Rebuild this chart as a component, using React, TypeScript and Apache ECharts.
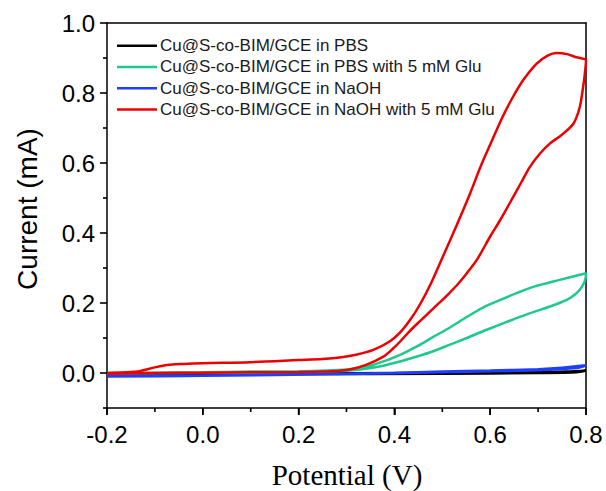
import React, { useEffect, useRef } from "react";
import * as echarts from "echarts";

// Potential (V), Current (mA) — forward and reverse scans of each CV loop
const pbsFwd: number[][] = [[-0.2,-0.003],[0.0,-0.002],[0.2,-0.001],[0.4,0.0],[0.6,0.001],[0.7,0.002],[0.76,0.004],[0.8,0.007]];
const pbsRev: number[][] = [[0.78,0.002],[0.7,0.0],[0.5,-0.002],[0.2,-0.003],[-0.2,-0.004]];

const pbsGluFwd: number[][] = [[-0.2,0.0],[-0.1,0.001],[0.0,0.002],[0.1,0.004],[0.2,0.005],[0.26,0.007],[0.3,0.01],[0.328,0.015],[0.355,0.023],[0.377,0.033],[0.412,0.052],[0.447,0.076],[0.481,0.103],[0.516,0.13],[0.551,0.16],[0.585,0.187],[0.62,0.208],[0.655,0.228],[0.69,0.246],[0.745,0.266],[0.8,0.285]];
const pbsGluRev: number[][] = [[0.799,0.27],[0.795,0.255],[0.787,0.238],[0.775,0.222],[0.76,0.209],[0.725,0.19],[0.69,0.174],[0.655,0.157],[0.62,0.138],[0.586,0.12],[0.551,0.1],[0.516,0.081],[0.481,0.062],[0.447,0.047],[0.412,0.033],[0.377,0.021],[0.328,0.01],[0.28,0.005],[0.2,0.002],[0.0,0.0],[-0.2,-0.002]];

const naohFwd: number[][] = [[-0.2,-0.009],[0.0,-0.007],[0.2,-0.004],[0.4,0.0],[0.5,0.004],[0.6,0.007],[0.7,0.011],[0.75,0.015],[0.8,0.022]];
const naohRev: number[][] = [[0.78,0.014],[0.7,0.008],[0.5,0.002],[0.3,-0.003],[0.0,-0.008],[-0.2,-0.01]];

const naohGluFwd: number[][] = [[-0.2,0.0],[-0.16,0.002],[-0.13,0.006],[-0.1,0.016],[-0.075,0.023],[-0.04,0.026],[0.0,0.028],[0.1,0.031],[0.2,0.037],[0.25,0.04],[0.29,0.045],[0.32,0.052],[0.356,0.066],[0.39,0.09],[0.412,0.116],[0.433,0.152],[0.453,0.195],[0.476,0.255],[0.502,0.335],[0.53,0.422],[0.558,0.513],[0.58,0.59],[0.604,0.665],[0.627,0.735],[0.648,0.79],[0.669,0.837],[0.697,0.884],[0.72,0.907],[0.739,0.914],[0.76,0.911],[0.78,0.902],[0.8,0.893]];
const naohGluRev: number[][] = [[0.798,0.86],[0.794,0.817],[0.787,0.76],[0.774,0.713],[0.749,0.68],[0.725,0.656],[0.704,0.627],[0.683,0.589],[0.665,0.545],[0.648,0.503],[0.62,0.435],[0.6,0.39],[0.572,0.323],[0.55,0.283],[0.53,0.25],[0.51,0.222],[0.488,0.193],[0.465,0.163],[0.447,0.14],[0.43,0.117],[0.412,0.09],[0.395,0.067],[0.377,0.047],[0.342,0.024],[0.307,0.01],[0.27,0.005],[0.2,0.003],[0.1,0.002],[0.0,0.001],[-0.1,0.0],[-0.2,-0.002]];

const seriesNames = [
  "Cu@S-co-BIM/GCE in PBS",
  "Cu@S-co-BIM/GCE in PBS with 5 mM Glu",
  "Cu@S-co-BIM/GCE in NaOH",
  "Cu@S-co-BIM/GCE in NaOH with 5 mM Glu",
];
const seriesColors = ["#000000", "#1ec98b", "#1f3fff", "#ee0000"];
const seriesData = [
  [...pbsFwd, ...pbsRev],
  [...pbsGluFwd, ...pbsGluRev],
  [...naohFwd, ...naohRev],
  [...naohGluFwd, ...naohGluRev],
];

// axis ranges and tick positions
const xMin = -0.2;
const xMax = 0.8;
const yMin = -0.1;
const yMax = 1.0;
const xMajorTicks = [-0.2, 0.0, 0.2, 0.4, 0.6, 0.8];
const xMinorTicks = [-0.1, 0.1, 0.3, 0.5, 0.7];
const yMajorTicks = [0.0, 0.2, 0.4, 0.6, 0.8, 1.0];
const yMinorTicks = [-0.1, 0.1, 0.3, 0.5, 0.7, 0.9];

const xTitle = "Potential (V)";
const yTitle = "Current (mA)";

const SANS = '"Liberation Sans", Arial, sans-serif';
const SERIF = '"Liberation Serif", "Times New Roman", serif';

export default function App() {
  const ref = useRef<HTMLDivElement>(null);
  useEffect(() => {
    if (!ref.current) return;
    const chart = echarts.init(ref.current, null, { renderer: "svg" });
    const fmt = (v: number) => (Math.abs(v - yMin) < 1e-9 ? "" : v.toFixed(1));
    const ls = () => ({ color: "#000", width: 1.5 });
    const frameAxis = {
      axisTick: { show: false },
      axisLabel: { show: false },
      splitLine: { show: false },
    };
    chart.setOption({
      animation: false,
      backgroundColor: "#ffffff",
      grid: { left: 107, right: 20, top: 23, bottom: 83 },
      legend: {
        orient: "vertical",
        left: 117,
        top: 37,
        padding: 0,
        icon: "rect",
        itemWidth: 40,
        itemHeight: 2.5,
        itemGap: 4,
        data: seriesNames,
        textStyle: { fontFamily: SANS, fontSize: 17, lineHeight: 17.3, color: "#1a1a1a", padding: [0, 0, 0, -2] },
      },
      xAxis: [
        {
          type: "value",
          position: "bottom",
          min: xMin,
          max: xMax,
          interval: 0.2,
          axisLine: { show: true, onZero: false, lineStyle: ls() },
          axisTick: { show: true, length: 7, lineStyle: ls() },
          splitLine: { show: false },
          axisLabel: {
            margin: 14,
            fontFamily: SANS,
            fontSize: 24,
            color: "#000",
            formatter: (v: number) => v.toFixed(1),
          },
        },
        {
          type: "value",
          position: "top",
          min: xMin,
          max: xMax,
          axisLine: { show: true, onZero: false, lineStyle: ls() },
          ...frameAxis,
        },
      ],
      yAxis: [
        {
          type: "value",
          position: "left",
          min: yMin,
          max: yMax,
          splitNumber: 5,
          axisLine: { show: true, onZero: false, lineStyle: ls() },
          axisTick: { show: false },
          splitLine: { show: false },
          axisLabel: { margin: 12, fontFamily: SANS, fontSize: 24, color: "#000", formatter: fmt },
        },
        {
          type: "value",
          position: "right",
          min: yMin,
          max: yMax,
          axisLine: { show: true, onZero: false, lineStyle: ls() },
          ...frameAxis,
        },
      ],
      series: seriesNames.map((name, i) => ({
        name,
        type: "line",
        xAxisIndex: 0,
        yAxisIndex: 0,
        data: seriesData[i],
        showSymbol: false,
        symbol: "none",
        smooth: 0.3,
        lineStyle: { color: seriesColors[i], width: 2.5 },
        itemStyle: { color: seriesColors[i] },
        emphasis: { disabled: true },
        z: 2 + i,
      })),
    });

    // ticks, placed through the axes' own scales, drawn as thin filled bars
    const px = (v: number) => Number(chart.convertToPixel({ xAxisIndex: 0 }, v));
    const py = (v: number) => Number(chart.convertToPixel({ yAxisIndex: 0 }, v));
    const xAxisY = py(yMin);
    const yAxisX = px(xMin);
    const tw = 1.6;
    const xTick = (v: number, len: number) => ({
      type: "rect",
      silent: true,
      z: 100,
      shape: { x: px(v) - tw / 2, y: xAxisY, width: tw, height: len },
      style: { fill: "#000" },
    });
    const yTick = (v: number, len: number) => ({
      type: "rect",
      silent: true,
      z: 100,
      shape: { x: yAxisX - len, y: py(v) - tw / 2, width: len, height: tw },
      style: { fill: "#000" },
    });

    chart.setOption({
      graphic: [
        {
          type: "text",
          x: 27,
          y: 209,
          rotation: Math.PI / 2,
          style: {
            text: yTitle,
            fontFamily: SANS,
            fontSize: 28,
            fill: "#000",
            align: "center",
            verticalAlign: "middle",
          },
        },
        {
          type: "text",
          x: 347,
          y: 475,
          style: {
            text: xTitle,
            fontFamily: SERIF,
            fontSize: 29,
            fill: "#000",
            align: "center",
            verticalAlign: "middle",
          },
        },
        ...xMajorTicks.map((v) => xTick(v, 7)),
        ...xMinorTicks.map((v) => xTick(v, 4)),
        ...yMajorTicks.map((v) => yTick(v, 7)),
        ...yMinorTicks.map((v) => yTick(v, 4)),
      ],
    });
    return () => chart.dispose();
  }, []);
  return (
    <div
      ref={ref}
      style={{ position: "fixed", left: 0, top: 0, width: 606, height: 491, background: "#fff" }}
    />
  );
}
